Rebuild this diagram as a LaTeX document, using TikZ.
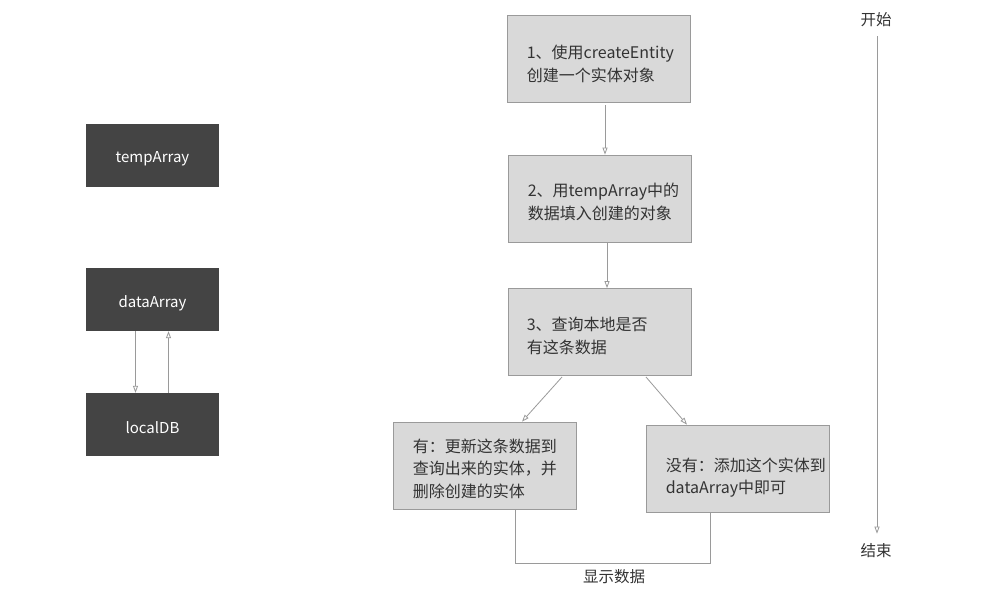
\documentclass[tikz,border=0pt]{standalone}
\usepackage{fontspec}
\setmainfont{Noto Sans CJK SC}
\usetikzlibrary{arrows.meta}
\definecolor{darkbox}{HTML}{444444}
\definecolor{lightbox}{HTML}{D9D9D9}
\definecolor{edge}{HTML}{9A9A9A}
\definecolor{txt}{HTML}{333333}
\tikzset{
  darknode/.style={draw=none,fill=darkbox,minimum width=133pt,minimum height=63pt,inner sep=0pt},
  darktext/.style={text=white,inner sep=0pt,font=\fontsize{15}{18}\selectfont},
  lightnode/.style={draw=edge,line width=0.8pt,fill=lightbox,minimum width=183pt,minimum height=87pt,inner sep=0pt},
  boxtext/.style={anchor=west,text=txt,inner sep=0pt,align=left,font=\fontsize{16}{22.5}\selectfont},
  plain/.style={text=txt,inner sep=0pt,font=\fontsize{15.5}{18}\selectfont},
  conn/.style={draw=edge,line width=0.8pt,-{Triangle[open,length=7pt,width=5pt]}},
  seg/.style={draw=edge,line width=0.8pt}
}
\begin{document}
\begin{tikzpicture}[x=1pt,y=-1pt]
\useasboundingbox[fill=white] (0,0) rectangle (1000,600);
% left dark boxes
\node[darknode] (temp) at (152.5,155) {};
\node[darknode] (data) at (152.5,299.5) {};
\node[darknode] (db) at (152.5,424.5) {};
\node[darktext] (tempt) at ([yshift=-3.5pt]temp.center) {tempArray};
\node[darktext] (datat) at ([yshift=-3.5pt]data.center) {dataArray};
\node[darktext] (dbt) at ([yshift=-3.5pt]db.center) {localDB};
\draw[conn] ([xshift=-17pt]data.south) -- ([xshift=-17pt]db.north);
\draw[conn] ([xshift=16pt]db.north) -- ([xshift=16pt]data.south);
% flow boxes
\node[lightnode] (b1) at (598.5,58.5) {};
\node[lightnode] (b2) at (599.5,198.5) {};
\node[lightnode] (b3) at (599.5,332) {};
\node[lightnode] (b4) at (484.5,465.5) {};
\node[lightnode] (b5) at (737.5,468.5) {};
\node[boxtext] (t1) at ([xshift=20pt,yshift=-5.5pt]b1.west) {1、使用createEntity\\创建一个实体对象};
\node[boxtext] (t2) at ([xshift=20pt,yshift=-3.5pt]b2.west) {2、用tempArray中的\\数据填入创建的对象};
\node[boxtext] (t3) at ([xshift=19pt,yshift=-4pt]b3.west) {3、查询本地是否\\有这条数据};
\node[boxtext] (t4) at ([xshift=20pt,yshift=-3pt]b4.west) {有：更新这条数据到\\查询出来的实体，并\\删除创建的实体};
\node[boxtext] (t5) at ([xshift=20pt,yshift=-9pt]b5.west) {没有：添加这个实体到\\dataArray中即可};
\draw[conn] ([xshift=6.5pt,yshift=-3pt]b1.south) -- ([xshift=5.5pt]b2.north);
\draw[conn] ([xshift=7.5pt]b2.south) -- ([xshift=7.5pt]b3.north);
\coordinate (s1) at (562,377);
\coordinate (s2) at (646,377);
\draw[conn] (s1) -- ([xshift=37.5pt]b4.north);
\draw[conn] (s2) -- ([xshift=-50.5pt]b5.north);
% join
\coordinate (j1) at (515,563);
\coordinate (j2) at (710,563);
\draw[seg] (b4.south -| j1) -- (j1) -- (j2) -- (b5.south -| j2);
\node[plain] (show) at (614,577) {显示数据};
% timeline
\node[plain] (start) at (876,20) {开始};
\node[plain] (end) at (876,551) {结束};
\draw[conn] ([xshift=1pt,yshift=-9pt]start.south) -- ([xshift=1pt,yshift=10pt]end.north);
\end{tikzpicture}
\end{document}
